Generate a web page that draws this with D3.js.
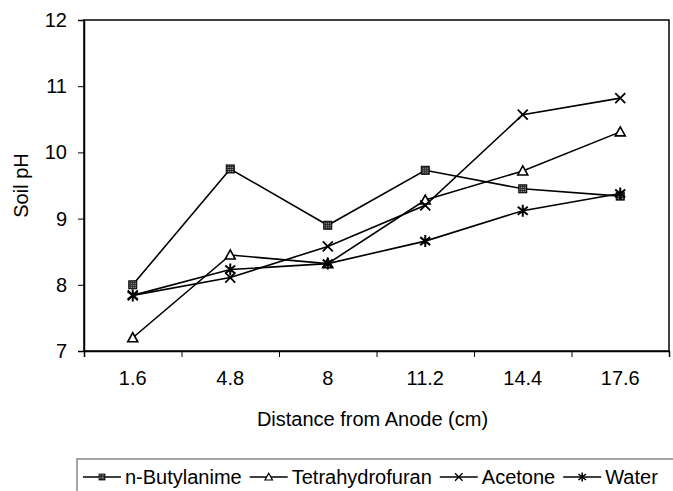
<!DOCTYPE html>
<meta charset="utf-8">
<head>
  <style>
    body { margin: 0; background: #fff; }
    text { font-family: "Liberation Sans", Arial, sans-serif; fill: #000; }
  </style>
  <script src="https://cdn.jsdelivr.net/npm/d3@7"></script>
</head>
<body>
<script>
  // data
  const distances = ["1.6", "4.8", "8", "11.2", "14.4", "17.6"];
  const butylanime = [8.0, 9.75, 8.9, 9.73, 9.45, 9.34];
  const thf = [7.2, 8.45, 8.32, 9.28, 9.72, 10.31];
  const acetone = [7.84, 8.11, 8.58, 9.2, 10.57, 10.82];
  const water = [7.84, 8.23, 8.32, 8.66, 9.12, 9.38];
  const yTicks = [7, 8, 9, 10, 11, 12];

  const series = [
    {name: "n-Butylanime", marker: "square", values: butylanime},
    {name: "Tetrahydrofuran", marker: "triangle", values: thf},
    {name: "Acetone", marker: "cross", values: acetone},
    {name: "Water", marker: "star", values: water}
  ];

  const W = 673, H = 491;
  const plotL = 84, plotR = 669, plotT = 20, plotB = 351;
  const fs = "20px";

  const svg = d3.select("body").append("svg")
    .attr("width", W)
    .attr("height", H);

  const defs = svg.append("defs");
  const pat = defs.append("pattern")
    .attr("id", "dots")
    .attr("width", 2).attr("height", 2)
    .attr("patternUnits", "userSpaceOnUse");
  pat.append("rect").attr("width", 2).attr("height", 2).attr("fill", "#222");
  pat.append("rect").attr("width", 1).attr("height", 1).attr("fill", "#bbb");

  const x = d3.scaleBand().domain(distances).range([plotL, plotR]);
  const xEdge = d3.scaleLinear().domain([0, distances.length]).range([plotL, plotR]);
  const y = d3.scaleLinear().domain([7, 12]).range([plotB, plotT]);

  // frame
  svg.append("rect")
    .attr("x", plotL).attr("y", plotT)
    .attr("width", plotR - plotL).attr("height", plotB - plotT)
    .attr("fill", "none").attr("stroke", "#000").attr("stroke-width", 1.5);

  // y axis
  const yAxis = svg.append("g")
    .attr("transform", `translate(${plotL},0)`)
    .call(d3.axisLeft(y).tickValues(yTicks).tickSize(6).tickPadding(11).tickFormat(d3.format("d")));
  yAxis.select(".domain").attr("stroke-width", 1.5);
  yAxis.selectAll("text").style("font-size", fs).style("font-family", "Liberation Sans, Arial, sans-serif");

  // x axis: tick marks at category edges, labels at centres
  const xTicks = svg.append("g")
    .attr("transform", `translate(0,${plotB})`)
    .call(d3.axisBottom(xEdge).tickValues(d3.range(distances.length + 1)).tickSize(6).tickFormat(""));
  xTicks.select(".domain").attr("stroke-width", 1.5);

  const xLabels = svg.append("g")
    .attr("transform", `translate(0,${plotB})`)
    .call(d3.axisBottom(x).tickSize(0).tickPadding(20));
  xLabels.select(".domain").remove();
  xLabels.selectAll("text").style("font-size", fs).style("font-family", "Liberation Sans, Arial, sans-serif");

  // axis titles
  svg.append("text")
    .attr("x", (plotL + plotR) / 2 - 4)
    .attr("y", 426)
    .attr("text-anchor", "middle")
    .style("font-size", fs)
    .text("Distance from Anode (cm)");

  svg.append("text")
    .attr("transform", `translate(28,${(plotT + plotB) / 2}) rotate(-90)`)
    .attr("text-anchor", "middle")
    .style("font-size", fs)
    .text("Soil pH");

  function marker(g, type) {
    if (type === "square") {
      g.append("rect").attr("x", -4).attr("y", -4).attr("width", 8).attr("height", 8)
        .attr("fill", "url(#dots)").attr("stroke", "#000").attr("stroke-width", 1);
    } else if (type === "triangle") {
      g.append("path").attr("d", "M0,-5L5,4L-5,4Z")
        .attr("fill", "#fff").attr("stroke", "#000").attr("stroke-width", 1.6);
    } else if (type === "cross") {
      g.append("path").attr("d", "M-5,-5L5,5M-5,5L5,-5")
        .attr("stroke", "#000").attr("stroke-width", 1.8);
    } else {
      g.append("path").attr("d", "M-5,-4L5,4M-5,4L5,-4M0,-6L0,6")
        .attr("stroke", "#000").attr("stroke-width", 2);
    }
  }

  const line = d3.line()
    .x((d, i) => x(distances[i]) + x.bandwidth() / 2)
    .y(d => y(d));

  series.forEach(s => {
    svg.append("path")
      .attr("d", line(s.values))
      .attr("fill", "none")
      .attr("stroke", "#000")
      .attr("stroke-width", 1.6);
    s.values.forEach((v, i) => {
      const g = svg.append("g")
        .attr("transform", `translate(${x(distances[i]) + x.bandwidth() / 2},${y(v)})`);
      marker(g, s.marker);
    });
  });

  // legend
  const lg = svg.append("g");
  lg.append("rect")
    .attr("x", 77).attr("y", 459)
    .attr("width", 700).attr("height", 60)
    .attr("fill", "none").attr("stroke", "#888").attr("stroke-width", 1.5);

  let lx = 83;
  const ly = 477;
  series.forEach(s => {
    lg.append("line")
      .attr("x1", lx).attr("x2", lx + 38)
      .attr("y1", ly).attr("y2", ly)
      .attr("stroke", "#000").attr("stroke-width", 1.6);
    const m = lg.append("g").attr("transform", `translate(${lx + 19},${ly}) scale(0.75)`);
    marker(m, s.marker);
    const t = lg.append("text")
      .attr("x", lx + 42)
      .attr("y", ly + 7)
      .style("font-size", fs)
      .text(s.name);
    lx += 42 + t.node().getComputedTextLength() + 8;
  });
</script>
</body>
</html>
